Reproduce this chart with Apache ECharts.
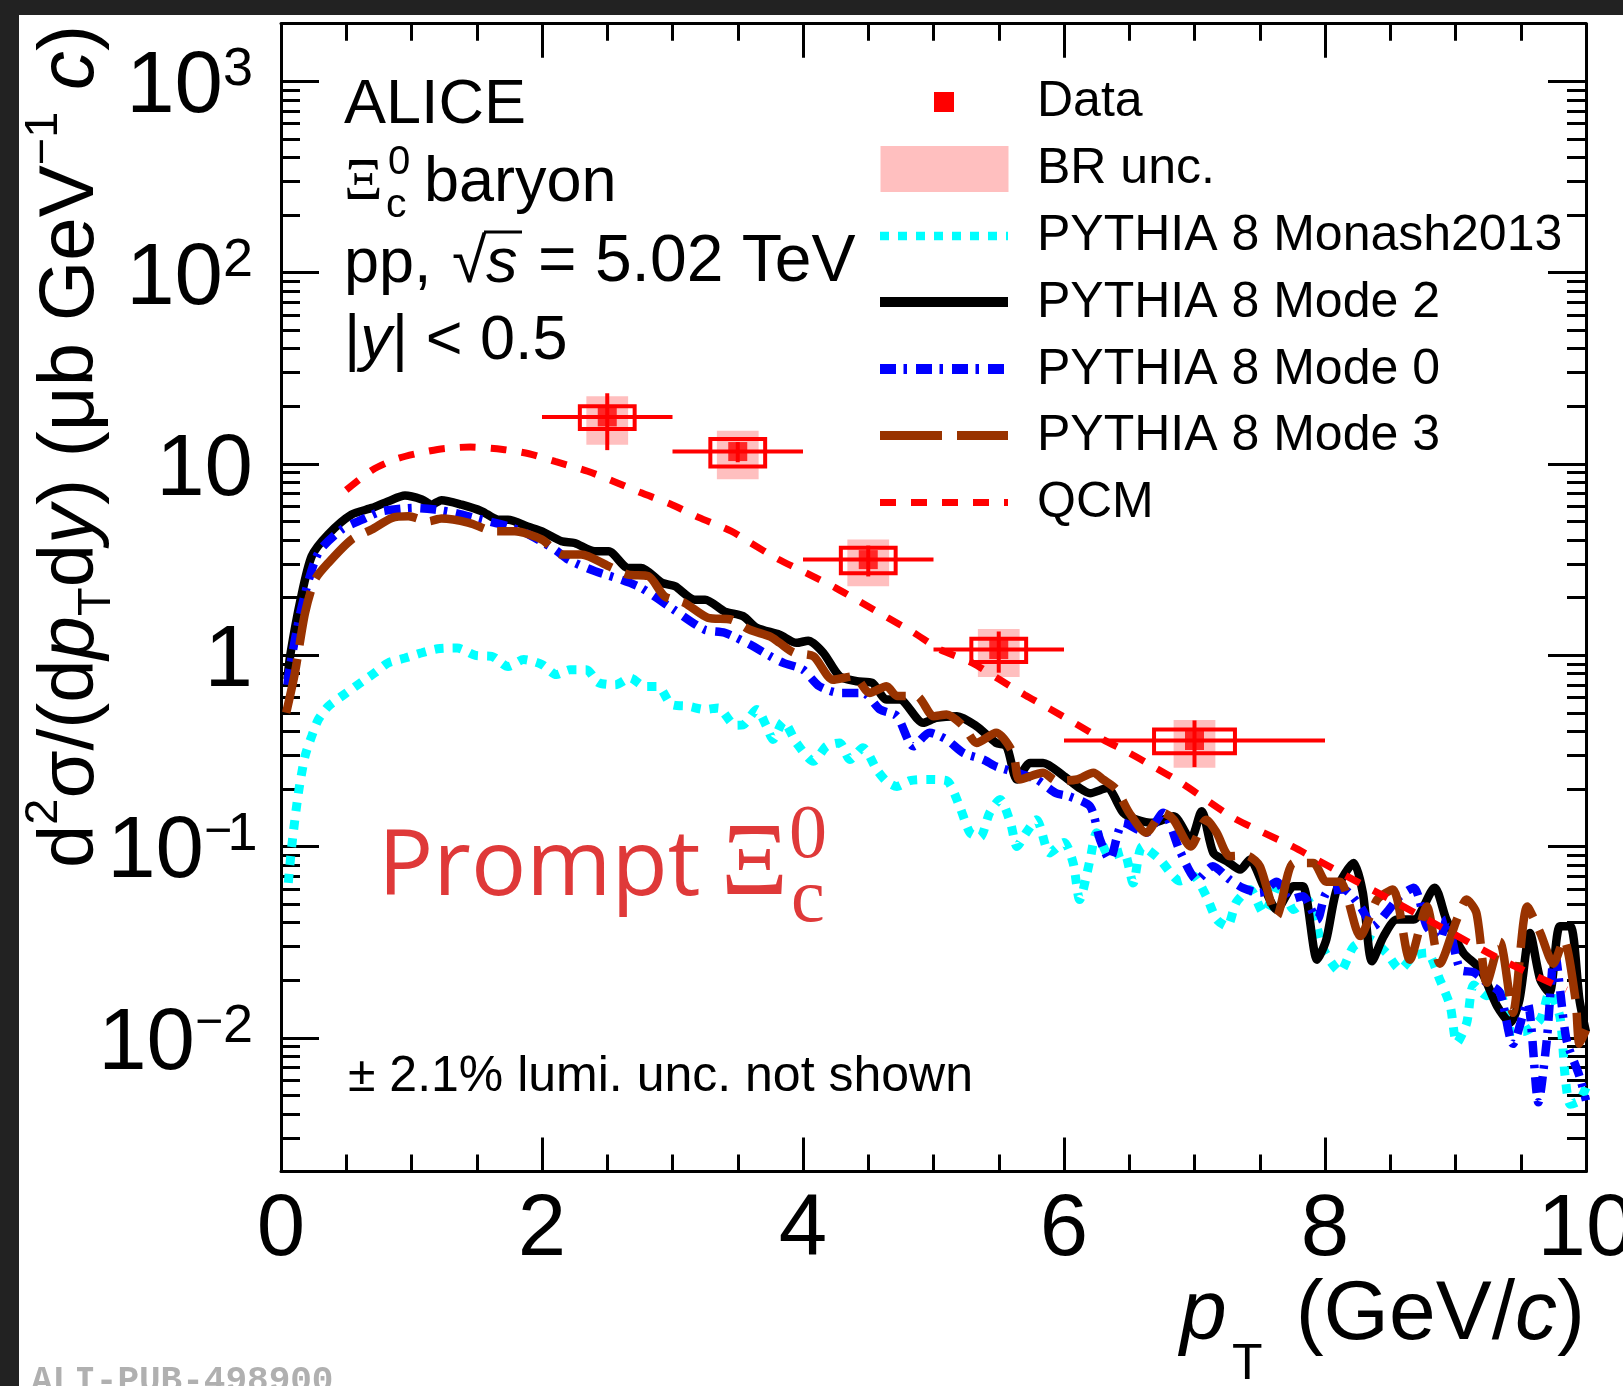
<!DOCTYPE html>
<html><head><meta charset="utf-8">
<script src="https://cdn.jsdelivr.net/npm/echarts@6/dist/echarts.min.js"></script>
<style>
html,body{margin:0;padding:0;background:#222222;width:1623px;height:1386px;overflow:hidden}
#chart{position:absolute;left:19px;top:15px;width:1604px;height:1371px;background:#ffffff}
</style></head><body><div id="chart"></div>
<script>
// ---------------- DATA ----------------
const dataPt      = [2.5, 3.5, 4.5, 5.5, 7];
const dataHalfBin = [0.5, 0.5, 0.5, 0.5, 1];
const dataY       = [17.6, 11.6, 3.16, 1.07, 0.358];
const dataStat    = [5.8, 1.4, 0.58, 0.26, 0.098];
const dataSyst    = [2.4, 1.9, 0.48, 0.15, 0.051];
const dataBR      = [5.0, 3.3, 0.87, 0.30, 0.10];

const qcm = [[0.5,7.3],[0.7,9.3],[0.9,10.7],[1.2,11.9],[1.45,12.25],[1.7,11.9],[1.9,11.3],[2.1,10.3],[2.35,9.15],[2.55,8.1],[2.75,7.1],[3.0,6.1],[3.2,5.25],[3.45,4.45],[3.6,3.86],[3.8,3.2],[4.05,2.64],[4.25,2.25],[4.45,1.88],[4.65,1.57],[4.85,1.31],[5.05,1.07],[5.3,0.91],[5.5,0.75],[5.7,0.62],[5.9,0.52],[6.1,0.434],[6.3,0.362],[6.5,0.308],[6.7,0.258],[6.9,0.215],[7.3,0.141],[7.75,0.1],[8.15,0.071],[8.55,0.0507],[8.95,0.036],[9.35,0.0256],[9.85,0.0178]];

const mode2 = [[0.05,0.75],[0.07,0.99],[0.15,1.95],[0.235,3.29],[0.36,4.27],[0.54,5.43],[0.7,5.89],[0.82,6.37],[0.95,6.83],[1.08,6.51],[1.155,6.12],[1.23,6.46],[1.385,6.12],[1.54,5.65],[1.665,5.11],[1.74,5.11],[1.895,4.69],[2.0,4.44],[2.15,3.94],[2.25,3.86],[2.405,3.49],[2.51,3.49],[2.66,2.86],[2.76,2.86],[2.92,2.39],[3.02,2.29],[3.17,1.95],[3.25,1.95],[3.4,1.69],[3.54,1.60],[3.645,1.39],[3.82,1.28],[3.95,1.16],[4.04,1.19],[4.155,1.03],[4.28,0.776],[4.41,0.731],[4.53,0.717],[4.64,0.586],[4.74,0.586],[4.92,0.443],[5.02,0.47],[5.18,0.48],[5.33,0.425],[5.48,0.348],[5.56,0.334],[5.64,0.224],[5.74,0.2735],[5.84,0.2735],[6.0,0.233],[6.12,0.202],[6.2,0.19],[6.33,0.202],[6.455,0.15],[6.56,0.138],[6.685,0.133],[6.84,0.144],[6.97,0.109],[7.055,0.153],[7.145,0.0925],[7.25,0.0837],[7.35,0.0757],[7.425,0.0854],[7.53,0.0619],[7.63,0.0468],[7.76,0.0619],[7.83,0.0619],[7.94,0.0256],[8.01,0.0326],[8.09,0.0596],[8.22,0.082],[8.29,0.0572],[8.36,0.0251],[8.45,0.034],[8.55,0.0415],[8.68,0.0415],[8.84,0.0608],[8.93,0.0415],[9.06,0.0278],[9.19,0.0228],[9.32,0.0146],[9.42,0.012],[9.49,0.0158],[9.57,0.0353],[9.65,0.0201],[9.72,0.0172],[9.8,0.0383],[9.88,0.0383],[9.95,0.0158],[10.0,0.0107]];

const mode0 = [[0.05,0.7],[0.06,0.81],[0.16,1.80],[0.286,3.43],[0.465,4.54],[0.62,5.11],[0.77,5.65],[1.03,5.88],[1.18,5.77],[1.33,5.55],[1.54,5.11],[1.74,4.72],[1.9,4.27],[2.1,3.56],[2.2,3.16],[2.405,2.75],[2.61,2.48],[2.76,2.25],[3.01,1.73],[3.245,1.36],[3.4,1.31],[3.59,1.14],[3.75,0.987],[3.85,0.911],[4.0,0.84],[4.125,0.688],[4.28,0.635],[4.46,0.635],[4.59,0.52],[4.72,0.48],[4.845,0.334],[4.97,0.393],[5.1,0.362],[5.23,0.308],[5.38,0.285],[5.48,0.262],[5.64,0.243],[5.79,0.224],[5.94,0.19],[6.04,0.183],[6.2,0.162],[6.275,0.109],[6.35,0.0854],[6.455,0.133],[6.63,0.118],[6.76,0.15],[6.89,0.094],[7.02,0.0671],[7.14,0.0789],[7.27,0.0671],[7.37,0.0608],[7.5,0.0572],[7.63,0.0654],[7.73,0.0528],[7.83,0.055],[7.94,0.0415],[8.01,0.0572],[8.14,0.0596],[8.27,0.0486],[8.37,0.0383],[8.47,0.045],[8.575,0.055],[8.68,0.0608],[8.78,0.0383],[8.88,0.0326],[8.93,0.0415],[9.035,0.0228],[9.14,0.022],[9.24,0.0194],[9.34,0.0172],[9.44,0.0093],[9.55,0.0153],[9.635,0.0046],[9.7,0.0098],[9.76,0.028],[9.85,0.0098],[9.95,0.0063],[10.0,0.0047]];

const mode3 = [[0.04,0.5],[0.107,0.81],[0.184,1.66],[0.26,2.48],[0.363,3.04],[0.54,4.02],[0.695,4.54],[0.85,5.22],[0.976,5.32],[1.13,5.01],[1.23,5.18],[1.44,4.92],[1.64,4.44],[1.79,4.44],[2.0,4.02],[2.15,3.36],[2.3,3.36],[2.51,2.92],[2.66,2.64],[2.815,2.59],[2.94,2.03],[3.09,1.88],[3.27,1.57],[3.45,1.535],[3.59,1.36],[3.75,1.25],[3.82,1.16],[3.93,1.03],[4.08,0.987],[4.23,0.745],[4.39,0.776],[4.51,0.635],[4.64,0.688],[4.72,0.612],[4.87,0.612],[5.0,0.48],[5.1,0.49],[5.23,0.425],[5.33,0.348],[5.48,0.393],[5.61,0.308],[5.66,0.224],[5.84,0.243],[5.94,0.221],[6.1,0.224],[6.225,0.243],[6.3,0.224],[6.4,0.199],[6.5,0.15],[6.63,0.118],[6.76,0.15],[6.84,0.138],[6.97,0.1],[7.09,0.138],[7.17,0.118],[7.27,0.089],[7.4,0.0896],[7.5,0.079],[7.63,0.0432],[7.76,0.082],[7.91,0.082],[8.01,0.0654],[8.115,0.0654],[8.27,0.034],[8.4,0.0528],[8.52,0.0596],[8.65,0.0256],[8.78,0.0486],[8.88,0.0244],[9.01,0.0415],[9.085,0.0528],[9.16,0.045],[9.24,0.0194],[9.34,0.0318],[9.44,0.0135],[9.55,0.0486],[9.65,0.0353],[9.75,0.0244],[9.83,0.0326],[9.92,0.0158],[9.95,0.0093],[10.0,0.011]];

const monash = [[0.056,0.0645],[0.082,0.1],[0.133,0.19],[0.184,0.296],[0.235,0.377],[0.286,0.461],[0.363,0.541],[0.465,0.61],[0.59,0.702],[0.72,0.81],[0.82,0.911],[0.95,0.966],[1.08,1.03],[1.2,1.08],[1.35,1.09],[1.49,0.997],[1.615,0.987],[1.74,0.872],[1.86,0.948],[2.0,0.893],[2.11,0.792],[2.215,0.84],[2.34,0.84],[2.43,0.72],[2.56,0.70],[2.675,0.76],[2.79,0.685],[2.89,0.685],[2.99,0.554],[3.12,0.541],[3.25,0.52],[3.35,0.53],[3.48,0.43],[3.54,0.432],[3.645,0.52],[3.72,0.425],[3.77,0.362],[3.85,0.45],[3.95,0.348],[4.08,0.279],[4.18,0.334],[4.28,0.348],[4.36,0.285],[4.46,0.328],[4.565,0.252],[4.64,0.219],[4.72,0.206],[4.82,0.221],[4.97,0.224],[5.1,0.221],[5.2,0.162],[5.28,0.118],[5.356,0.112],[5.43,0.15],[5.51,0.176],[5.59,0.133],[5.64,0.1],[5.71,0.118],[5.79,0.138],[5.89,0.0925],[6.0,0.105],[6.07,0.082],[6.12,0.0528],[6.2,0.0854],[6.25,0.118],[6.35,0.089],[6.455,0.094],[6.53,0.0645],[6.6,0.1],[6.735,0.0854],[6.89,0.066],[6.99,0.07],[7.09,0.055],[7.17,0.0415],[7.25,0.0383],[7.32,0.051],[7.425,0.0596],[7.53,0.045],[7.655,0.0645],[7.76,0.0468],[7.86,0.0528],[7.99,0.0289],[8.115,0.0222],[8.22,0.03],[8.345,0.0326],[8.47,0.0278],[8.575,0.0228],[8.68,0.0268],[8.78,0.0278],[8.88,0.0201],[8.96,0.0146],[9.01,0.0094],[9.085,0.0119],[9.14,0.0189],[9.24,0.0166],[9.34,0.0172],[9.42,0.0108],[9.52,0.0108],[9.65,0.0125],[9.72,0.0172],[9.8,0.0129],[9.84,0.0063],[9.88,0.0045],[9.95,0.0047],[10.0,0.0055]];

const yMajorTicks = [0.01, 0.1, 1, 10, 100, 1000];
const xTickLabels = [0, 2, 4, 6, 8, 10];
const legendLabels = ['Data', 'BR unc.', 'PYTHIA 8 Monash2013', 'PYTHIA 8 Mode 2', 'PYTHIA 8 Mode 0', 'PYTHIA 8 Mode 3', 'QCM'];

// ---------------- STYLE / LAYOUT ----------------
const FF = 'Liberation Sans';
const RED = '#ff0000', PINK = '#ffbfbf', CYAN = '#00ffff', BLUE = '#0000ff', BROWN = '#993300';
const OX = 19, OY = 15; // container offset in window
const yMinorTicks = [];
for (let e = -3; e <= 3; e++) for (let k = 2; k <= 9; k++) {
  const v = +(k * Math.pow(10, e)).toPrecision(3);
  if (v > 0.002 && v < 2000) yMinorTicks.push(v);
}

function T(x, y, text, size, o) { // x, y: window coords, y = baseline
  o = o || {};
  const fam = o.family || FF;
  const mid = o.mid != null ? o.mid : 0.3465;
  const st = {
    text: text, fontSize: size, fontFamily: fam,
    fontStyle: o.italic ? 'italic' : 'normal', fontWeight: o.bold ? 'bold' : 'normal',
    fill: o.color || '#000',
    align: o.align || 'left', textAlign: o.align || 'left',
    verticalAlign: 'middle', textVerticalAlign: 'middle'
  };
  if (o.rich) st.rich = o.rich;
  return { type: 'text', x: x - OX, y: y - OY - mid * size, z: 100, silent: true, style: st };
}
function L(x1, y1, x2, y2, color, w, dash) {
  return { type: 'line', z: 100, silent: true,
    shape: { x1: x1 - OX, y1: y1 - OY, x2: x2 - OX, y2: y2 - OY },
    style: { stroke: color, lineWidth: w, lineDash: dash || null } };
}
function R(x, y, w, h, fill) {
  return { type: 'rect', z: 100, silent: true, shape: { x: x - OX, y: y - OY, width: w, height: h }, style: { fill: fill } };
}

const tickStyle = { color: '#000', width: 3 };
function xAx(pos, showLabel) {
  return {
    type: 'value', position: pos, min: 0, max: 10, interval: 2,
    axisLine: { show: true, onZero: false, lineStyle: { color: '#000', width: 3 } },
    axisTick: { show: true, inside: true, length: 34, lineStyle: tickStyle },
    minorTick: { show: true, splitNumber: 4, length: 17, lineStyle: tickStyle },
    splitLine: { show: false }, minorSplitLine: { show: false },
    axisLabel: { show: showLabel, fontSize: 87, fontFamily: FF, color: '#000', margin: 16, lineHeight: 87,
      customValues: xTickLabels, hideOverlap: false }
  };
}
function yAx(pos, major, showLabel) {
  const vals = major ? yMajorTicks : yMinorTicks;
  return {
    type: 'log', logBase: 10, position: pos, min: 0.002, max: 2000,
    axisLine: { show: major, onZero: false, lineStyle: { color: '#000', width: 3 } },
    axisTick: { show: true, inside: true, length: major ? 38 : 19, lineStyle: tickStyle, customValues: vals },
    splitLine: { show: false },
    axisLabel: {
      show: showLabel, customValues: vals, margin: 28, padding: [14, 0, 0, 0],
      formatter: function (v) {
        const e = Math.round(Math.log10(v));
        if (e === 0) return '{m|1}';
        if (e === 1) return '{m|10}';
        const d = Math.abs(e);
        return '{m|10}' + (e < 0 ? '{mi|\u2212}' : '') + (d === 1 ? '{s1|1}' : '{s|' + d + '}');
      },
      rich: {
        m: { fontSize: 87, fontFamily: FF, color: '#000', lineHeight: 90, verticalAlign: 'middle' },
        mi: { fontSize: 48, fontFamily: FF, color: '#000', lineHeight: 38, verticalAlign: 'top' },
        s: { fontSize: 54, fontFamily: FF, color: '#000', lineHeight: 38, verticalAlign: 'top' },
        s1: { fontSize: 54, fontFamily: FF, color: '#000', lineHeight: 38, verticalAlign: 'top', width: 21, align: 'left' }
      }
    }
  };
}

function brRender(p, api) {
  const x = api.value(0), y = api.value(1), e = api.value(2);
  const a = api.coord([x - 0.16, y + e]), b = api.coord([x + 0.16, y - e]);
  return { type: 'rect', shape: { x: a[0], y: a[1], width: b[0] - a[0], height: b[1] - a[1] }, style: { fill: PINK } };
}
function systRender(p, api) {
  const x = api.value(0), y = api.value(1), e = api.value(2), hb = api.value(3);
  const hw = hb > 0.5 ? 0.31 : 0.21;
  const a = api.coord([x - hw, y + e]), b = api.coord([x + hw, y - e]);
  return { type: 'rect', shape: { x: a[0], y: a[1], width: b[0] - a[0], height: b[1] - a[1] },
    style: { fill: 'none', stroke: RED, lineWidth: 4 } };
}
function errRender(p, api) {
  const x = api.value(0), y = api.value(1), hb = api.value(2), st = api.value(3);
  const l = api.coord([x - hb, y]), r = api.coord([x + hb, y]);
  const t = api.coord([x, y + st]), b = api.coord([x, y - st]);
  return { type: 'group', children: [
    { type: 'line', shape: { x1: l[0], y1: l[1], x2: r[0], y2: r[1] }, style: { stroke: RED, lineWidth: 4 } },
    { type: 'line', shape: { x1: t[0], y1: t[1], x2: b[0], y2: b[1] }, style: { stroke: RED, lineWidth: 4 } }
  ] };
}

function lineSeries(name, data, color, width, dash, z) {
  return { type: 'line', name: name, data: data, symbol: 'none', showSymbol: false, smooth: 0.25,
    lineStyle: { color: color, width: width, type: dash || 'solid' }, z: z, silent: true, clip: true };
}

// legend (drawn with graphic elements)
const legend = [];
legend.push(R(934, 92, 20, 20, RED));
legend.push(R(880.5, 146, 128, 46, PINK));
legend.push(L(880, 236, 1008, 236, CYAN, 8.5, [9, 9]));
legend.push(L(880, 302, 1008, 302, '#000', 10));
legend.push(L(880, 369, 1008, 369, BLUE, 10, [16, 7.5, 3.5, 9]));
legend.push(L(880, 435.5, 1008, 435.5, BROWN, 9, [62, 15]));
legend.push(L(880, 502.5, 1008, 502.5, RED, 7, [16, 15]));
const legBase = [119.5, 187, 254, 321, 387.5, 454, 520.5];
legendLabels.forEach((s, i) => legend.push(T(1037, legBase[i], s, 50)));

const texts = [];
// header
texts.push(T(344, 127, 'ALICE', 63));
texts.push(T(344, 203, '\u039E', 60, { family: 'Liberation Serif', mid: 0.3375 }));
texts.push(T(388, 177, '0', 40));
texts.push(T(386, 220, 'c', 41));
texts.push(T(424, 205, 'baryon', 63));
texts.push(T(344, 286, 'pp,', 63));
texts.push(T(452, 286, '\u221A', 63));
texts.push(L(484, 232, 522, 232, '#000', 3));
texts.push(T(486, 286, 's', 63, { italic: true }));
texts.push(T(538, 286, '= 5.02 TeV', 66));
texts.push(T(344, 363, '|{i|y}| < 0.5', 63, { rich: { i: { fontSize: 63, fontFamily: FF, fontStyle: 'italic', fill: '#000' } } }));
// prompt label
const PR = '#df3939';
texts.push(T(378, 904, 'Prompt', 92, { family: 'Open Sans', mid: 0.388, color: PR }));
texts.push(T(721, 902, '\u039E', 104, { family: 'Liberation Serif', mid: 0.3375, color: PR }));
texts.push(T(789, 863, '0', 76, { family: 'Liberation Serif', mid: 0.3375, color: PR }));
texts.push(T(791, 927, 'c', 76, { family: 'Liberation Serif', mid: 0.3375, color: PR }));
// lumi
texts.push(T(348, 1095, '\u00B1 2.1% lumi. unc. not shown', 50));
// x title
texts.push(T(1180, 1345, 'p', 84, { italic: true }));
texts.push(T(1232, 1383, 'T', 50));
texts.push(T(1585, 1345, '(GeV/{i|c})', 84, { align: 'right', rich: { i: { fontSize: 84, fontFamily: FF, fontStyle: 'italic', fill: '#000' } } }));
// y title (rotated)
const yr = {
  n: { fontSize: 78, fontFamily: FF, fill: '#000', lineHeight: 100, verticalAlign: 'middle' },
  i: { fontSize: 78, fontFamily: FF, fontStyle: 'italic', fill: '#000', lineHeight: 100, verticalAlign: 'middle' },
  sup: { fontSize: 47, fontFamily: FF, fill: '#000', lineHeight: 40, verticalAlign: 'top' },
  sub: { fontSize: 47, fontFamily: FF, fill: '#000', lineHeight: 40, verticalAlign: 'bottom' }
};
texts.push({ type: 'text', x: 71 - OX, y: 25 - OY, rotation: Math.PI / 2, z: 100, silent: true,
  style: { text: '{n|d}{sup|2}{n|\u03C3/(d}{i|p}{sub|T}{n|d}{i|y}{n|) (\u03BCb GeV}{sup|\u22121}{n| }{i|c}{n|)}',
    rich: yr, fontSize: 78, fontFamily: FF, fill: '#000',
    align: 'right', textAlign: 'right', verticalAlign: 'middle', textVerticalAlign: 'middle' } });
// watermark
texts.push(T(31, 1394, 'ALI-PUB-498900', 36, { family: 'Liberation Mono', bold: true, color: '#b0b0b0' }));

const option = {
  animation: false,
  backgroundColor: '#ffffff',
  grid: { left: 262, top: 8.7, width: 1305, height: 1147.8, containLabel: false, outerBoundsMode: 'none' },
  xAxis: [xAx('bottom', true), xAx('top', false)],
  yAxis: [yAx('left', true, true), yAx('left', false, false), yAx('right', true, false), yAx('right', false, false)],
  series: [
    { type: 'custom', name: 'BR unc.', renderItem: brRender, data: dataPt.map((x, i) => [x, dataY[i], dataBR[i]]), z: 1, silent: true },
    lineSeries('PYTHIA 8 Monash2013', monash, CYAN, 9, [9, 9], 2),
    lineSeries('PYTHIA 8 Mode 2', mode2, '#000', 8.5, null, 3),
    lineSeries('PYTHIA 8 Mode 0', mode0, BLUE, 8.5, [16, 7.5, 3.5, 9], 4),
    lineSeries('PYTHIA 8 Mode 3', mode3, BROWN, 8.5, [55, 14], 5),
    lineSeries('QCM', qcm, RED, 7, [16, 15], 6),
    { type: 'custom', name: 'syst', renderItem: systRender, data: dataPt.map((x, i) => [x, dataY[i], dataSyst[i], dataHalfBin[i]]), z: 10, silent: true },
    { type: 'custom', name: 'stat', renderItem: errRender, data: dataPt.map((x, i) => [x, dataY[i], dataHalfBin[i], dataStat[i]]), z: 11, silent: true },
    { type: 'scatter', name: 'Data', data: dataPt.map((x, i) => [x, dataY[i]]), symbol: 'rect', symbolSize: 19, itemStyle: { color: RED }, z: 12, silent: true }
  ],
  graphic: legend.concat(texts)
};
const chart = echarts.init(document.getElementById('chart'), null, { renderer: 'canvas' });
chart.setOption(option);
</script></body></html>
